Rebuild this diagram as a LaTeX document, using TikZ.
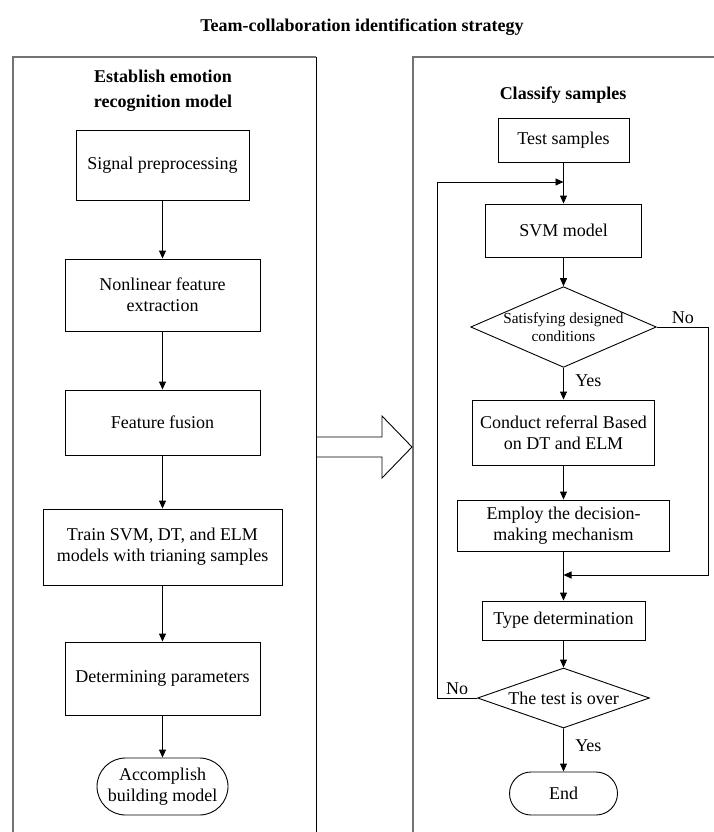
\documentclass[tikz,border=0pt]{standalone}
\usepackage{fontspec}
\setmainfont{Liberation Serif}
\usetikzlibrary{arrows.meta, shapes.geometric, shapes.misc}

\begin{document}
\begin{tikzpicture}[x=1pt, y=-1pt, line width=0.9pt, >={Triangle[length=8pt,width=7pt]},
  every node/.style={font=\fontsize{18}{21}\selectfont},
  heading/.style={font=\bfseries\fontsize{18}{25}\selectfont, align=center},
  box/.style={draw, inner sep=0pt, align=center},
  decision/.style={draw, diamond, inner sep=0pt, align=center},
  terminal/.style={draw, rounded rectangle, inner sep=0pt, align=center},
  panel/.style={draw=black!55, line width=1.8pt}]
  \useasboundingbox (0,0) rectangle (713,832);

  % Title
  \node[heading] (title) at (362,27) {Team-collaboration identification strategy};

  % Panels
  \draw[panel] (13,840) -- (13,57) -- (316,57);
  \draw (316,57) -- (316,840);
  \draw[panel] (413,840) -- (413,57) -- (720,57);

  % Hollow arrow between panels
  \draw (316,437) -- (382,437) -- (382,416) -- (412,447) -- (382,478) -- (382,457) -- (316,457);

  % Left: model building
  \node[heading] (lhead) at (163,91) {Establish emotion\\recognition model};
  \node[box, minimum width=173pt, minimum height=70pt] (signal) at (162.5,165) {Signal preprocessing};
  \node[box, minimum width=195pt, minimum height=72pt] (nonlin) at (162.5,295) {Nonlinear feature\\extraction};
  \node[box, minimum width=195pt, minimum height=65pt] (fusion) at (162.5,422.5) {Feature fusion};
  \node[box, minimum width=239pt, minimum height=76pt] (train) at (162.5,547) {Train SVM, DT, and ELM\\models with trianing samples};
  \node[box, minimum width=195pt, minimum height=73pt] (params) at (162.5,678.5) {Determining parameters};
  \node[terminal, minimum width=131pt, minimum height=57pt] (done) at (162.5,786.5) {Accomplish\\building model};

  \draw[->] (signal) -- (nonlin);
  \draw[->] (nonlin) -- (fusion);
  \draw[->] (fusion) -- (train);
  \draw[->] (train) -- (params);
  \draw[->] (params) -- (done);

  % Right: classification
  \node[heading] (rhead) at (563,95) {Classify samples};
  \node[box, minimum width=131pt, minimum height=44pt] (test) at (563.5,140) {Test samples};
  \node[box, minimum width=156pt, minimum height=53pt] (svm) at (563.5,230.5) {SVM model};
  \node[decision, aspect=2.3, minimum width=182pt, minimum height=80pt, font=\fontsize{15.3}{17.5}\selectfont] (cond) at (563.5,327) {Satisfying designed\\conditions};
  \node[box, minimum width=182pt, minimum height=65pt] (refer) at (563.5,432.5) {Conduct referral Based\\on DT and ELM};
  \node[box, minimum width=212pt, minimum height=51pt] (employ) at (563.5,525.5) {Employ the decision-\\making mechanism};
  \node[box, minimum width=163pt, minimum height=39pt] (type) at (563.5,620.5) {Type determination};
  \node[decision, aspect=2.87, minimum width=172pt, minimum height=60pt] (over) at (563.5,698) {The test is over};
  \node[terminal, minimum width=108pt, minimum height=43pt] (end) at (563.5,793.5) {End};

  \coordinate (merge) at (563.5,182);
  \coordinate (join) at (563.5,575);

  \draw[->] (test) -- (svm);
  \draw[->] (svm) -- (cond);
  \draw[->] (cond) -- (refer) node[pos=0.4, right=8pt] (yes1) {Yes};
  \draw[->] (refer) -- (employ);
  \draw (employ) -- (join);
  \draw[->] (join) -- (type);
  \draw[->] (cond.east) -- ++(52,0) node[pos=0.5, above] (no1) {No} |- (join);
  \draw[->] (type) -- (over);
  \draw[->] (over) -- (end) node[pos=0.4, right=8pt] (yes2) {Yes};
  \draw[->] (over.west) -- ++(-40,0) node[pos=0.5, above] (no2) {No} |- (merge);
\end{tikzpicture}
\end{document}
